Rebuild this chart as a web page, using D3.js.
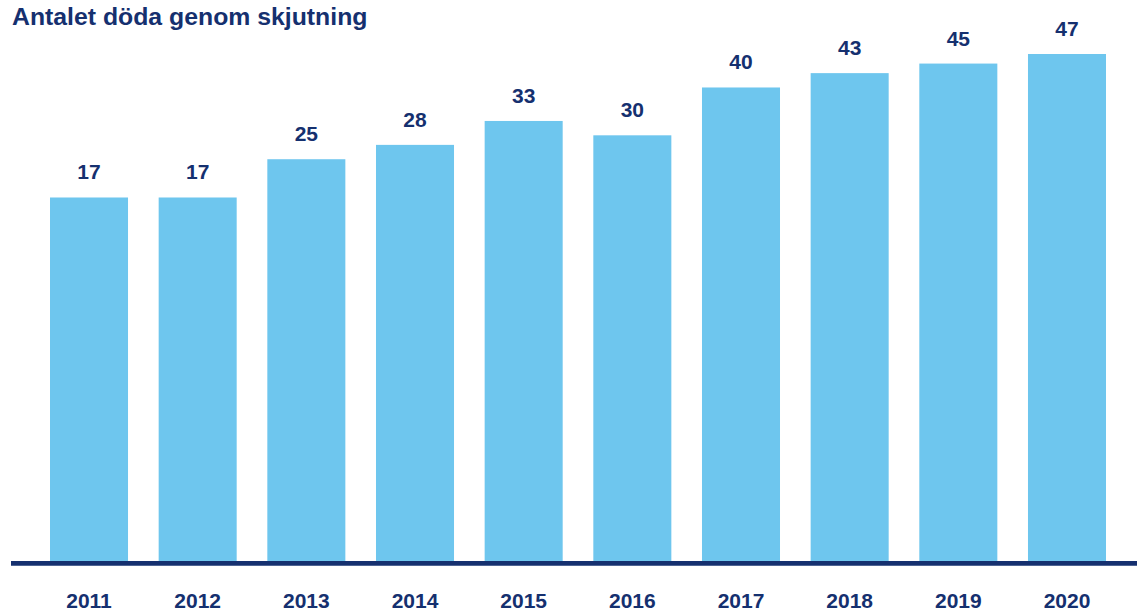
<!DOCTYPE html>
<html>
<head>
<meta charset="utf-8">
<script src="https://cdn.jsdelivr.net/npm/d3@7"></script>
<style>
  html, body { margin: 0; padding: 0; background: #ffffff; }
  svg { display: block; }
  text { font-family: "Liberation Sans", Arial, sans-serif; font-weight: bold; fill: #15306f; }
</style>
</head>
<body>
<svg id="chart" width="1137" height="613"></svg>
<script>
const title = "Antalet döda genom skjutning";
const years = ["2011", "2012", "2013", "2014", "2015", "2016", "2017", "2018", "2019", "2020"];
const deaths = [17, 17, 25, 28, 33, 30, 40, 43, 45, 47];

const svg = d3.select("#chart");
const W = 1137, H = 613;
const baseY = 561;

const x = d3.scaleBand().domain(years).range([50, 1106]).paddingInner(0.282).paddingOuter(0);
const y = d3.scaleLinear().domain([-59, 47]).range([baseY, 54]);

svg.append("text")
  .attr("x", 12).attr("y", 25)
  .attr("font-size", 24.8)
  .text(title);

svg.selectAll("rect.bar").data(years).join("rect")
  .attr("class", "bar")
  .attr("x", d => x(d))
  .attr("width", x.bandwidth())
  .attr("y", (d, i) => y(deaths[i]))
  .attr("height", (d, i) => baseY - y(deaths[i]))
  .attr("fill", "#6ec6ee");

svg.selectAll("text.val").data(years).join("text")
  .attr("class", "val")
  .attr("x", d => x(d) + x.bandwidth() / 2)
  .attr("y", (d, i) => y(deaths[i]) - 18)
  .attr("text-anchor", "middle")
  .attr("font-size", 21)
  .text((d, i) => deaths[i]);

const axis = d3.axisBottom(x).tickSize(0).tickPadding(0);
const g = svg.append("g").attr("transform", `translate(0,${baseY})`).call(axis);
g.select(".domain").remove();
g.selectAll(".tick text")
  .attr("y", 47)
  .attr("dy", 0)
  .attr("font-size", 21)
  .attr("font-family", "Liberation Sans, Arial, sans-serif")
  .attr("font-weight", "bold")
  .attr("fill", "#15306f");

svg.append("line")
  .attr("x1", 11).attr("x2", W)
  .attr("y1", 563.3).attr("y2", 563.3)
  .attr("stroke", "#15306f")
  .attr("stroke-width", 4.7);
</script>
</body>
</html>
